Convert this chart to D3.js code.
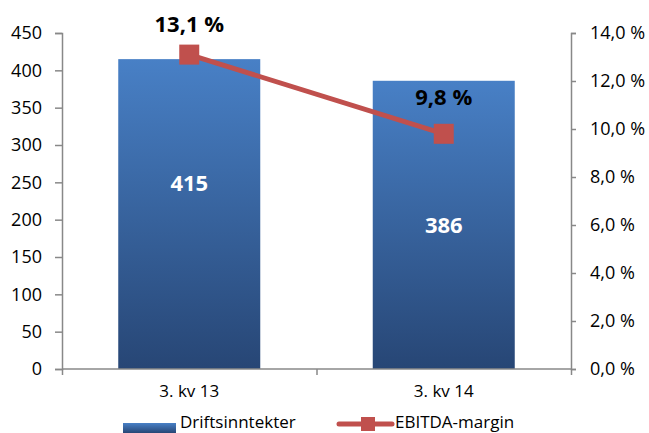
<!DOCTYPE html>
<html><head><meta charset="utf-8">
<script src="https://cdn.jsdelivr.net/npm/d3@7"></script>
<style>body{margin:0;background:#fff}svg{display:block}text{font-family:"Open Sans",sans-serif}</style>
</head><body>
<svg id="c" width="649" height="433"></svg>
<script>
const categories = ["3. kv 13", "3. kv 14"];
const revenue = [415, 386];
const margin = [13.1, 9.8];
const leftTicks = [0, 50, 100, 150, 200, 250, 300, 350, 400, 450];
const rightTicks = [0, 2, 4, 6, 8, 10, 12, 14];
const seriesNames = ["Driftsinntekter", "EBITDA-margin"];

const svg = d3.select("#c");
const L = 62, R = 571, T = 33, B = 369;
const x = d3.scaleBand().domain(categories).range([L, R]).paddingInner(0.442).paddingOuter(0.221);
const yL = d3.scaleLinear().domain([0, 450]).range([B, T]);
const yR = d3.scaleLinear().domain([0, 14]).range([B, T]);
const fmt = v => v.toFixed(1).replace(".", ",") + " %";

const defs = svg.append("defs");
const g = defs.append("linearGradient").attr("id", "bg").attr("x1", 0).attr("y1", 0).attr("x2", 0).attr("y2", 1);
g.append("stop").attr("offset", "0%").attr("stop-color", "#4880C6");
g.append("stop").attr("offset", "100%").attr("stop-color", "#274675");
const gl = defs.append("linearGradient").attr("id", "bgl").attr("x1", 0).attr("y1", 0).attr("x2", 0).attr("y2", 1);
gl.append("stop").attr("offset", "0%").attr("stop-color", "#4880C6");
gl.append("stop").attr("offset", "100%").attr("stop-color", "#274675");

// bars
svg.selectAll(".bar").data(revenue).enter().append("rect")
  .attr("x", (d, i) => x(categories[i])).attr("width", x.bandwidth())
  .attr("y", d => yL(d)).attr("height", d => B - yL(d))
  .attr("fill", "url(#bg)");

// axes
const axL = svg.append("g").attr("transform", `translate(${L},0)`)
  .call(d3.axisLeft(yL).tickValues(leftTicks).tickSize(7).tickPadding(13));
const axR = svg.append("g").attr("transform", `translate(${R},0)`)
  .call(d3.axisRight(yR).tickValues(rightTicks).tickSize(5).tickPadding(14).tickFormat(fmt));
const xb = d3.scaleLinear().domain([0, 2]).range([L, R]);
const axB = svg.append("g").attr("transform", `translate(0,${B})`)
  .call(d3.axisBottom(xb).tickValues([0, 1, 2]).tickSize(6).tickFormat(""));
[axL, axR, axB].forEach(a => {
  a.selectAll("path").attr("stroke", "#888").attr("stroke-width", 1.5);
  a.selectAll("line").attr("stroke", "#888").attr("stroke-width", 1.5);
  a.selectAll("text").attr("font-size", 18).attr("fill", "#000").attr("font-family", "Open Sans");
});
axB.select("path").attr("d", `M${L},0H${R}`);

// category labels
svg.selectAll(".cat").data(categories).enter().append("text")
  .attr("x", d => x(d) + x.bandwidth() / 2).attr("y", 397)
  .attr("text-anchor", "middle").attr("font-size", 17).text(d => d);

// line
const cx = (d, i) => x(categories[i]) + x.bandwidth() / 2;
svg.append("path").datum(margin)
  .attr("d", d3.line().x(cx).y(d => yR(d)))
  .attr("fill", "none").attr("stroke", "#C0504D").attr("stroke-width", 5);
svg.selectAll(".mk").data(margin).enter().append("rect")
  .attr("x", (d, i) => cx(d, i) - 10).attr("y", d => yR(d) - 10)
  .attr("width", 20).attr("height", 20).attr("fill", "#C0504D");

// value labels
const valueDy = [-23, 8];
svg.selectAll(".vl").data(revenue).enter().append("text")
  .attr("x", (d, i) => cx(d, i)).attr("y", (d, i) => yL(d / 2) + valueDy[i])
  .attr("text-anchor", "middle").attr("font-size", 22).attr("font-weight", "bold")
  .attr("fill", "#fff").text(d => d);
const marginDy = [-23, -29];
svg.selectAll(".ml").data(margin).enter().append("text")
  .attr("x", (d, i) => cx(d, i)).attr("y", (d, i) => yR(d) + marginDy[i])
  .attr("text-anchor", "middle").attr("font-size", 22).attr("font-weight", "bold")
  .attr("fill", "#000").text(fmt);

// legend
const lg = svg.append("g");
lg.append("rect").attr("x", 123).attr("y", 423).attr("width", 53).attr("height", 10).attr("fill", "url(#bgl)");
lg.append("text").attr("x", 180).attr("y", 428).attr("font-size", 17).text(seriesNames[0]);
lg.append("line").attr("x1", 339).attr("x2", 392).attr("y1", 424).attr("y2", 424)
  .attr("stroke", "#C0504D").attr("stroke-width", 5).attr("stroke-linecap", "round");
lg.append("rect").attr("x", 361).attr("y", 417).attr("width", 14).attr("height", 14).attr("fill", "#C0504D");
lg.append("text").attr("x", 395).attr("y", 428).attr("font-size", 17).text(seriesNames[1]);
</script>
</body></html>
